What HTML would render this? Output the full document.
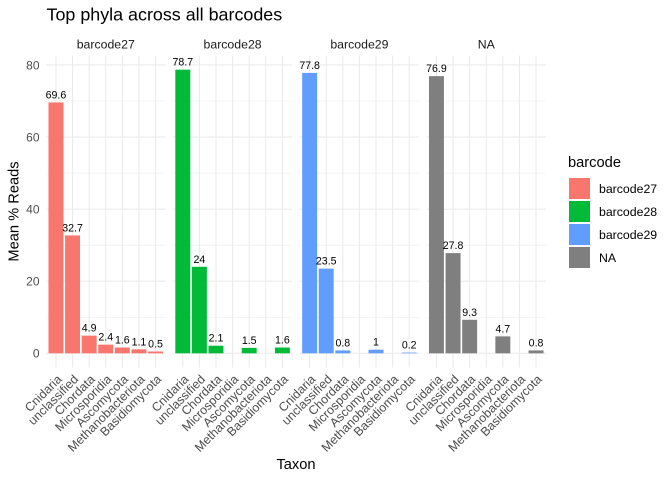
<!DOCTYPE html>
<html><head><meta charset="utf-8"><style>
html,body{margin:0;padding:0;background:#fff;}
svg{display:block;font-family:"Liberation Sans",Arial,sans-serif;}
</style></head><body>
<svg width="672" height="480" viewBox="0 0 672 480" xmlns="http://www.w3.org/2000/svg">
<rect width="672" height="480" fill="#fff"/>
<text x="46.5" y="20.5" font-size="17.9" fill="#000">Top phyla across all barcodes</text>

<g id="grid" stroke="#EBEBEB" fill="none">
<g id="p">
<line x1="46" x2="165.5" y1="317.26" y2="317.26" stroke-width="0.55"/>
<line x1="46" x2="165.5" y1="245.18" y2="245.18" stroke-width="0.55"/>
<line x1="46" x2="165.5" y1="173.1" y2="173.1" stroke-width="0.55"/>
<line x1="46" x2="165.5" y1="101.02" y2="101.02" stroke-width="0.55"/>
<line x1="46" x2="165.5" y1="353.3" y2="353.3" stroke-width="1.1"/>
<line x1="46" x2="165.5" y1="281.22" y2="281.22" stroke-width="1.1"/>
<line x1="46" x2="165.5" y1="209.14" y2="209.14" stroke-width="1.1"/>
<line x1="46" x2="165.5" y1="137.06" y2="137.06" stroke-width="1.1"/>
<line x1="46" x2="165.5" y1="64.98" y2="64.98" stroke-width="1.1"/>
<line x1="55.96" x2="55.96" y1="55.5" y2="367.5" stroke-width="1.1"/>
<line x1="72.55" x2="72.55" y1="55.5" y2="367.5" stroke-width="1.1"/>
<line x1="89.15" x2="89.15" y1="55.5" y2="367.5" stroke-width="1.1"/>
<line x1="105.75" x2="105.75" y1="55.5" y2="367.5" stroke-width="1.1"/>
<line x1="122.35" x2="122.35" y1="55.5" y2="367.5" stroke-width="1.1"/>
<line x1="138.94" x2="138.94" y1="55.5" y2="367.5" stroke-width="1.1"/>
<line x1="155.54" x2="155.54" y1="55.5" y2="367.5" stroke-width="1.1"/>
</g>
<use href="#p" transform="translate(126.83,0)"/>
<use href="#p" transform="translate(253.67,0)"/>
<use href="#p" transform="translate(380.5,0)"/>
</g>

<g font-size="12.3" fill="#1A1A1A" text-anchor="middle">
<text x="105.75" y="48.3">barcode27</text>
<text x="232.58" y="48.3">barcode28</text>
<text x="359.41" y="48.3">barcode29</text>
<text x="486.25" y="48.3">NA</text>
</g>

<g font-size="12" fill="#4D4D4D" text-anchor="end">
<text x="39.5" y="357.6">0</text>
<text x="39.5" y="285.5">20</text>
<text x="39.5" y="213.4">40</text>
<text x="39.5" y="141.3">60</text>
<text x="39.5" y="69.3">80</text>
</g>

<g fill="#F8766D">
<rect x="48.49" y="102.46" width="14.94" height="250.84"/>
<rect x="65.08" y="235.45" width="14.94" height="117.85"/>
<rect x="81.68" y="335.64" width="14.94" height="17.66"/>
<rect x="98.28" y="344.65" width="14.94" height="8.65"/>
<rect x="114.88" y="347.53" width="14.94" height="5.77"/>
<rect x="131.47" y="349.34" width="14.94" height="3.96"/>
<rect x="148.07" y="351.5" width="14.94" height="1.8"/>
</g>
<g fill="#00BA38">
<rect x="175.32" y="69.67" width="14.94" height="283.63"/>
<rect x="191.92" y="266.8" width="14.94" height="86.5"/>
<rect x="208.51" y="345.73" width="14.94" height="7.57"/>
<rect x="241.71" y="347.89" width="14.94" height="5.41"/>
<rect x="274.9" y="347.53" width="14.94" height="5.77"/>
</g>
<g fill="#619CFF">
<rect x="302.16" y="72.91" width="14.94" height="280.39"/>
<rect x="318.75" y="268.61" width="14.94" height="84.69"/>
<rect x="335.35" y="350.42" width="14.94" height="2.88"/>
<rect x="368.54" y="349.7" width="14.94" height="3.6"/>
<rect x="401.73" y="352.58" width="14.94" height="0.72"/>
</g>
<g fill="#7F7F7F">
<rect x="428.99" y="76.15" width="14.94" height="277.15"/>
<rect x="445.59" y="253.11" width="14.94" height="100.19"/>
<rect x="462.18" y="319.78" width="14.94" height="33.52"/>
<rect x="495.37" y="336.36" width="14.94" height="16.94"/>
<rect x="528.57" y="350.42" width="14.94" height="2.88"/>
</g>

<g font-size="10.6" fill="#000" text-anchor="middle">
<text x="55.96" y="98.4">69.6</text>
<text x="72.55" y="231.4">32.7</text>
<text x="89.15" y="331.6">4.9</text>
<text x="105.75" y="340.6">2.4</text>
<text x="122.35" y="343.5">1.6</text>
<text x="138.94" y="345.3">1.1</text>
<text x="155.54" y="347.5">0.5</text>

<text x="182.79" y="65.6">78.7</text>
<text x="199.39" y="262.8">24</text>
<text x="215.98" y="341.7">2.1</text>
<text x="249.18" y="343.9">1.5</text>
<text x="282.37" y="343.5">1.6</text>

<text x="309.63" y="68.9">77.8</text>
<text x="326.22" y="264.6">23.5</text>
<text x="342.82" y="346.4">0.8</text>
<text x="376.01" y="345.7">1</text>
<text x="409.2" y="348.6">0.2</text>

<text x="436.46" y="72.1">76.9</text>
<text x="453.06" y="249.1">27.8</text>
<text x="469.65" y="315.8">9.3</text>
<text x="502.84" y="332.4">4.7</text>
<text x="536.04" y="346.4">0.8</text>
</g>

<g font-size="12.4" fill="#4D4D4D" text-anchor="end">
<text transform="translate(62.46,380) rotate(-45)">Cnidaria</text>
<text transform="translate(79.05,380) rotate(-45)">unclassified</text>
<text transform="translate(95.65,380) rotate(-45)">Chordata</text>
<text transform="translate(112.25,380) rotate(-45)">Microsporidia</text>
<text transform="translate(128.85,380) rotate(-45)">Ascomycota</text>
<text transform="translate(145.44,380) rotate(-45)">Methanobacteriota</text>
<text transform="translate(162.04,380) rotate(-45)">Basidiomycota</text>

<text transform="translate(189.29,380) rotate(-45)">Cnidaria</text>
<text transform="translate(205.89,380) rotate(-45)">unclassified</text>
<text transform="translate(222.48,380) rotate(-45)">Chordata</text>
<text transform="translate(239.08,380) rotate(-45)">Microsporidia</text>
<text transform="translate(255.68,380) rotate(-45)">Ascomycota</text>
<text transform="translate(272.27,380) rotate(-45)">Methanobacteriota</text>
<text transform="translate(288.87,380) rotate(-45)">Basidiomycota</text>

<text transform="translate(316.13,380) rotate(-45)">Cnidaria</text>
<text transform="translate(332.72,380) rotate(-45)">unclassified</text>
<text transform="translate(349.32,380) rotate(-45)">Chordata</text>
<text transform="translate(365.91,380) rotate(-45)">Microsporidia</text>
<text transform="translate(382.51,380) rotate(-45)">Ascomycota</text>
<text transform="translate(399.11,380) rotate(-45)">Methanobacteriota</text>
<text transform="translate(415.7,380) rotate(-45)">Basidiomycota</text>

<text transform="translate(442.96,380) rotate(-45)">Cnidaria</text>
<text transform="translate(459.56,380) rotate(-45)">unclassified</text>
<text transform="translate(476.15,380) rotate(-45)">Chordata</text>
<text transform="translate(492.75,380) rotate(-45)">Microsporidia</text>
<text transform="translate(509.34,380) rotate(-45)">Ascomycota</text>
<text transform="translate(525.94,380) rotate(-45)">Methanobacteriota</text>
<text transform="translate(542.54,380) rotate(-45)">Basidiomycota</text>
</g>

<text x="296" y="469" font-size="14.67" fill="#000" text-anchor="middle">Taxon</text>
<text transform="translate(18.5,211.5) rotate(-90)" font-size="14.67" fill="#000" text-anchor="middle">Mean % Reads</text>

<text x="568" y="166.9" font-size="14.67" fill="#000">barcode</text>
<rect x="569" y="178" width="21" height="21" fill="#F8766D"/>
<rect x="569" y="201" width="21" height="21" fill="#00BA38"/>
<rect x="569" y="224" width="21" height="21" fill="#619CFF"/>
<rect x="569" y="247" width="21" height="21" fill="#7F7F7F"/>
<g font-size="12.3" fill="#000">
<text x="599" y="192.8">barcode27</text>
<text x="599" y="215.8">barcode28</text>
<text x="599" y="238.8">barcode29</text>
<text x="599" y="261.8">NA</text>
</g>
</svg>
</body></html>
